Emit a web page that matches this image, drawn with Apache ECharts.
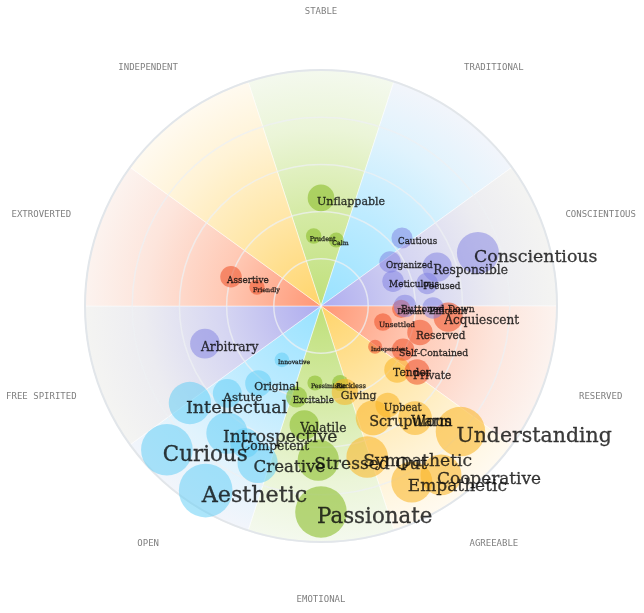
<!DOCTYPE html>
<html>
<head>
<meta charset="utf-8">
<title>Personality wheel</title>
<script src="https://cdn.jsdelivr.net/npm/echarts@6/dist/echarts.min.js"></script>
<style>
  html, body { margin: 0; padding: 0; background: #ffffff; }
  #chart { width: 644px; height: 613px; }
</style>
</head>
<body>
<div id="chart"></div>
<script>
// sectors round the wheel, clockwise from the top
var sectors = ['STABLE', 'TRADITIONAL', 'CONSCIENTIOUS', 'RESERVED', 'AGREEABLE',
               'EMOTIONAL', 'OPEN', 'FREE SPIRITED', 'EXTROVERTED', 'INDEPENDENT'];
var sectorAngle = [0, 36, 72, 108, 144, 180, 216, 252, 288, 324];
var sectorHue = [0, 1, 2, 3, 4, 0, 1, 2, 3, 4];
var sectorReach = [10, 10, 10, 10, 10, 10, 10, 10, 10, 10];
var sectorLabelRadius = 12.46;

// traits: radius (0-10), angle (deg clockwise from STABLE), weight, hue
var traits = ['Unflappable', 'Prudent', 'Calm', 'Assertive', 'Friendly', 'Arbitrary',
  'Innovative', 'Original', 'Astute', 'Intellectual', 'Introspective', 'Curious', 'Aesthetic',
  'Competent', 'Creative', 'Pessimistic', 'Reckless', 'Excitable', 'Volatile', 'Stressed Out',
  'Passionate', 'Giving', 'Tender', 'Upbeat', 'Scrupulous', 'Warm', 'Understanding',
  'Sympathetic', 'Empathetic', 'Cooperative', 'Distant', 'Buttoned-Down', 'Unsettled',
  'Acquiescent', 'Reserved', 'Independent', 'Self-Contained', 'Private', 'Efficient',
  'Cautious', 'Organized', 'Meticulous', 'Responsible', 'Focused', 'Conscientious'];
var traitRadius = [4.58, 2.98, 2.87, 4.01, 2.83, 5.17,
  2.82, 4.22, 5.43, 6.91, 6.70, 8.93, 9.22,
  6.64, 7.17, 3.27, 3.36, 3.99, 5.09, 6.53,
  8.73, 3.78, 4.21, 5.06, 5.23, 6.20, 7.95,
  6.69, 8.39, 8.78, 3.40, 3.56, 2.71,
  5.41, 4.34, 2.87, 3.94, 4.94, 4.75,
  4.48, 3.47, 3.23, 5.19, 4.60, 7.02];
var traitAngle = [0, 354, 13, 288, 286.5, 252,
  216, 219, 227, 233.5, 216.5, 227, 212,
  209, 202, 184.5, 166, 195, 188, 181,
  180, 164.5, 130, 146, 155, 140, 132,
  163, 152.7, 144.6, 92, 90, 104.5,
  95, 105, 127, 118, 124.5, 91,
  50, 57.5, 71, 71.5, 78, 71.3];
var traitWeight = [12.4, 7.2, 7, 10, 7.1, 13.8,
  6.8, 12.2, 13.4, 19.7, 19.2, 24, 25,
  13.7, 18.7, 7, 7.5, 9.8, 13.7, 19.2,
  24, 12.2, 12, 11.5, 16.2, 15.7, 23,
  19.3, 19.1, 19, 8.5, 10.5, 8.2,
  13.6, 11.8, 6.5, 10.4, 11.8, 10,
  9.8, 10, 10, 13.7, 10, 19.5];
var traitHue = [0, 0, 0, 3, 3, 2,
  1, 1, 1, 1, 1, 1, 1,
  1, 1, 0, 0, 0, 0, 0,
  0, 4, 4, 4, 4, 4, 4,
  4, 4, 4, 3, 2, 3,
  3, 3, 3, 3, 3, 2,
  2, 2, 2, 2, 2, 2];

var cx = 321, cy = 306, R = 236;

// hue order: green, blue, purple, red, orange
var bubbleColors = ['rgba(140,190,45,0.75)', 'rgba(95,205,245,0.65)', 'rgba(125,125,225,0.62)',
                    'rgba(240,85,45,0.72)', 'rgba(250,180,35,0.7)'];
var wedgeStops = [
  ['#bfe07a', '#d6eba8', '#ebf5d8', '#f4f9ee'],
  ['#98e2ff', '#bdebff', '#e0f3fd', '#f2f5fb'],
  ['#aeacef', '#d6d6f2', '#ececf1', '#f4f4f2'],
  ['#ff9674', '#ffcab6', '#fde5dc', '#fcf3ef'],
  ['#ffd46a', '#ffe7aa', '#fff3d6', '#fffaf0']
];
var stopAt = [0, 0.42, 0.75, 1];

function wedgeFill(h) {
  return {
    type: 'radial', x: cx, y: cy, r: R, global: true,
    colorStops: stopAt.map(function (o, k) {
      return { offset: o, color: wedgeStops[h][k] };
    })
  };
}

var wedgeData = sectorReach.map(function (v, i) {
  return { value: v, itemStyle: { color: wedgeFill(sectorHue[i]) } };
});

var bubbleData = traits.map(function (name, i) {
  var w = traitWeight[i];
  return {
    name: name,
    value: [traitRadius[i], traitAngle[i], w],
    symbolSize: w * 2.15,
    itemStyle: { color: bubbleColors[traitHue[i]] },
    label: { fontSize: w * 0.89, offset: [-4, w * 0.15 + 2] }
  };
});

var sectorLabelData = sectors.map(function (s, i) {
  return { name: s, value: [sectorLabelRadius, sectorAngle[i]] };
});

var chart = echarts.init(document.getElementById('chart'));

var option = {
  backgroundColor: '#ffffff',
  animation: false,
  polar: [
    { center: [cx, cy], radius: R },
    { center: [cx, cy], radius: R }
  ],
  angleAxis: [{
    polarIndex: 0,
    type: 'category',
    data: sectors,
    startAngle: 108,
    axisLine: { show: false },
    axisTick: { show: false },
    axisLabel: { show: false },
    splitLine: { show: false }
  }, {
    polarIndex: 1,
    type: 'value',
    min: 0,
    max: 360,
    startAngle: 90,
    z: 3,
    axisLine: { show: true, lineStyle: { color: '#e2e6ea', width: 2 } },
    axisTick: { show: false },
    axisLabel: { show: false },
    splitLine: { show: false }
  }],
  radiusAxis: [{
    polarIndex: 0,
    min: 0,
    max: 10,
    show: false
  }, {
    polarIndex: 1,
    min: 0,
    max: 10,
    interval: 2,
    z: 3,
    axisLine: { show: false },
    axisTick: { show: false },
    axisLabel: { show: false },
    splitLine: { show: true, lineStyle: { color: 'rgba(238,240,243,0.75)', width: 1.5 } }
  }],
  series: [{
    type: 'bar',
    coordinateSystem: 'polar',
    polarIndex: 0,
    barCategoryGap: '0%',
    z: 1,
    silent: true,
    itemStyle: { borderColor: 'rgba(255,255,255,0.45)', borderWidth: 1 },
    data: wedgeData
  }, {
    type: 'scatter',
    coordinateSystem: 'polar',
    polarIndex: 1,
    z: 5,
    clip: false,
    silent: true,
    data: bubbleData,
    label: {
      show: true,
      position: 'inside',
      align: 'left',
      verticalAlign: 'middle',
      formatter: '{b}',
      color: '#0a0a0a',
      textBorderColor: '#0a0a0a',
      textBorderWidth: 0.3,
      fontFamily: 'DejaVu Serif'
    }
  }, {
    type: 'scatter',
    coordinateSystem: 'polar',
    polarIndex: 1,
    z: 6,
    clip: false,
    silent: true,
    symbolSize: 1,
    itemStyle: { color: 'rgba(0,0,0,0)' },
    data: sectorLabelData,
    label: {
      show: true,
      position: 'inside',
      formatter: '{b}',
      color: '#5e5e5e',
      fontFamily: 'DejaVu Sans Mono',
      fontSize: 9
    }
  }]
};

chart.setOption(option);
</script>
</body>
</html>
